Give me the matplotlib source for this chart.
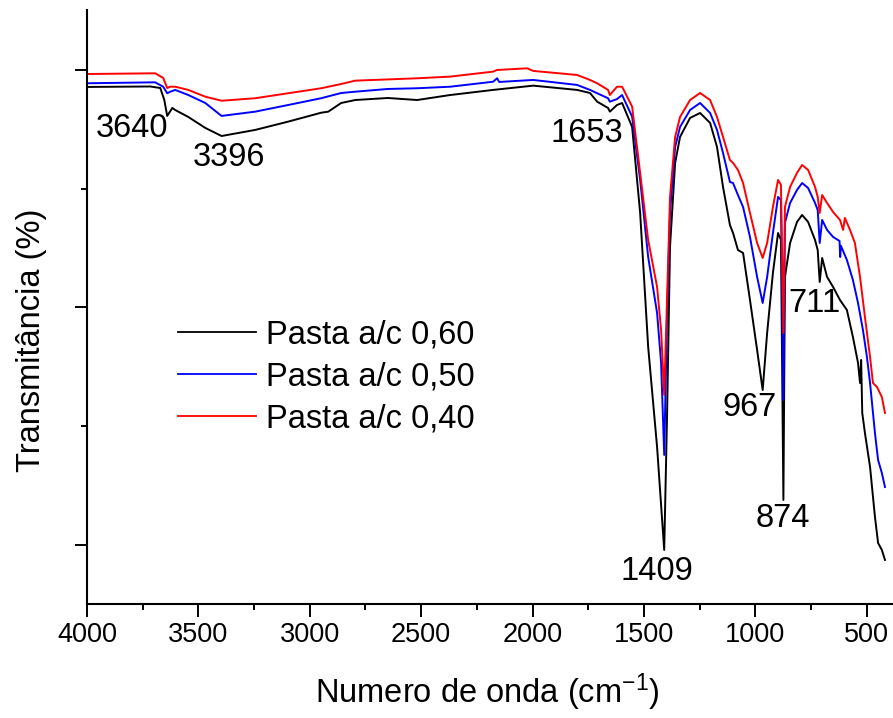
import matplotlib
matplotlib.use("Agg")
import matplotlib.pyplot as plt
from matplotlib.ticker import MultipleLocator

plt.rcParams['font.family'] = ['Liberation Sans', 'DejaVu Sans']
plt.rcParams['mathtext.fontset'] = 'custom'
plt.rcParams['mathtext.rm'] = 'Liberation Sans'
plt.rcParams['mathtext.it'] = 'Liberation Sans'

# ---- data (wavenumber cm-1, transmittance, arbitrary %) ----
wn_060 = [4000, 3716, 3671, 3653, 3640, 3617, 3604, 3545, 3469, 3396, 3245, 3097, 2949, 2917,
          2859, 2796, 2650, 2518, 2370, 2177, 1997, 1800, 1742, 1710, 1661, 1653, 1621, 1598,
          1553, 1517, 1481, 1441, 1409, 1396, 1383, 1360, 1338, 1293, 1248, 1203, 1172, 1145,
          1114, 1100, 1078, 1055, 1024, 992, 967, 947, 921, 898, 885, 874, 867, 844, 813, 790,
          763, 732, 720, 711, 700, 678, 651, 620, 589, 562, 539, 530, 525, 520, 508, 485, 463,
          449, 432, 418]
t_060 = [58.57, 58.61, 58.48, 57.47, 56.13, 56.80, 56.63, 56.04, 55.12, 54.44, 54.95, 55.65,
         56.40, 56.49, 57.22, 57.47, 57.64, 57.47, 57.89, 58.32, 58.68, 58.32, 58.06, 57.33,
         56.80, 56.49, 57.05, 57.22, 55.20, 47.96, 36.67, 28.25, 19.58, 31.12, 45.10, 52.17,
         54.36, 55.96, 56.38, 55.54, 53.52, 50.15, 46.95, 46.27, 44.84, 44.59, 40.63, 36.42,
         33.05, 37.85, 42.91, 46.27, 45.70, 23.79, 42.57, 45.43, 47.20, 47.79, 47.20, 45.68,
         44.84, 42.15, 44.17, 42.57, 41.73, 40.63, 39.79, 37.52, 35.33, 33.64, 35.58, 31.12,
         29.43, 26.57, 22.36, 20.17, 19.58, 18.74]

wn_050 = [4000, 3694, 3658, 3640, 3626, 3604, 3545, 3469, 3396, 3245, 3097, 2949, 2859, 2796,
          2650, 2518, 2370, 2177, 2159, 2150, 1997, 1800, 1742, 1710, 1661, 1653, 1621, 1598,
          1553, 1517, 1481, 1441, 1423, 1409, 1396, 1383, 1360, 1338, 1293, 1248, 1203, 1172,
          1145, 1114, 1100, 1078, 1055, 1024, 992, 967, 947, 921, 898, 885, 874, 867, 844, 813,
          790, 763, 732, 720, 711, 700, 678, 651, 622, 619, 616, 589, 562, 539, 517, 499, 485,
          463, 449, 432, 418]
t_050 = [58.88, 58.96, 58.59, 58.04, 58.17, 58.32, 57.89, 57.22, 56.13, 56.49, 57.05, 57.62,
         58.06, 58.17, 58.40, 58.46, 58.59, 59.01, 59.30, 58.99, 59.16, 58.74, 58.32, 58.04,
         57.62, 57.33, 57.55, 57.89, 56.07, 50.74, 44.25, 39.54, 35.33, 27.58, 39.54, 47.96,
         53.52, 55.20, 56.63, 57.22, 56.38, 54.95, 53.01, 50.57, 50.48, 49.47, 48.46, 45.94,
         42.57, 40.38, 42.57, 46.27, 49.31, 49.05, 32.21, 47.12, 48.80, 49.89, 50.48, 50.06,
         48.80, 48.21, 45.43, 47.37, 46.53, 45.94, 45.60, 44.25, 45.20, 44.00, 42.32, 40.38,
         38.11, 35.83, 33.64, 29.43, 27.16, 26.06, 24.88]

wn_040 = [4000, 3694, 3658, 3640, 3626, 3604, 3545, 3469, 3396, 3245, 3097, 2949, 2859, 2796,
          2518, 2370, 2177, 2159, 2024, 1997, 1800, 1742, 1710, 1661, 1653, 1621, 1598, 1553,
          1517, 1481, 1441, 1423, 1409, 1396, 1383, 1360, 1338, 1293, 1248, 1203, 1172, 1145,
          1114, 1100, 1078, 1055, 1024, 992, 967, 947, 921, 898, 885, 874, 867, 844, 813, 790,
          763, 732, 720, 711, 700, 678, 651, 620, 606, 598, 575, 553, 530, 508, 485, 472, 454,
          432, 418]
t_040 = [59.66, 59.72, 59.33, 58.48, 58.59, 58.59, 58.32, 57.75, 57.41, 57.62, 58.04, 58.46,
         58.82, 59.10, 59.30, 59.44, 59.86, 60.00, 60.14, 59.92, 59.58, 59.16, 58.88, 58.32,
         57.89, 58.59, 58.59, 56.91, 51.33, 45.68, 41.73, 38.11, 32.63, 40.88, 49.31, 54.36,
         56.04, 57.47, 58.06, 57.47, 56.04, 54.36, 52.42, 52.17, 51.58, 50.48, 47.96, 45.43,
         44.17, 45.43, 48.46, 50.74, 50.32, 37.85, 48.46, 50.15, 51.33, 52.00, 51.58, 50.15,
         49.31, 47.96, 49.47, 48.80, 48.04, 47.37, 46.53, 47.54, 46.53, 45.43, 42.57, 39.20,
         35.83, 33.64, 33.31, 32.46, 31.12]

series_labels = ["Pasta a/c 0,60", "Pasta a/c 0,50", "Pasta a/c 0,40"]
series_colors = ["black", "blue", "red"]

peak_labels = ["3640", "3396", "1653", "1409", "967", "874", "711"]
peak_label_pos = [(3797, 55.03), (3361, 52.59), (1755, 54.69), (1441, 17.73),
                  (1024, 31.54), (876, 22.19), (736, 40.30)]

# ---- figure ----
W, H = 893, 718
fig = plt.figure(figsize=(W / 100, H / 100), dpi=100)
ax = fig.add_axes([87 / W, (H - 604) / H, (W - 87) / W, 594 / H])

for wn, t, lab, col in zip([wn_060, wn_050, wn_040], [t_060, t_050, t_040],
                           series_labels, series_colors):
    ax.plot(wn, t, color=col, lw=1.4, label=lab)

ax.set_xlim(4000, 382)
ax.set_ylim(15.03, 65.05)
ax.xaxis.set_major_locator(MultipleLocator(500))
ax.xaxis.set_minor_locator(MultipleLocator(250))
ax.yaxis.set_major_locator(MultipleLocator(20))
ax.yaxis.set_minor_locator(MultipleLocator(10))
ax.tick_params(axis='both', which='major', direction='out', length=9, width=1.4,
               labelsize=19.5, pad=4)
ax.tick_params(axis='both', which='minor', direction='out', length=4.5, width=1.4)
ax.tick_params(axis='y', which='both', labelleft=False)
for s in ['top', 'right']:
    ax.spines[s].set_visible(False)
for s in ['left', 'bottom']:
    ax.spines[s].set_linewidth(1.5)

for lab, (x, y) in zip(peak_labels, peak_label_pos):
    ax.text(x, y, lab, fontsize=23.5, ha='center', va='center')

ax.set_xlabel("Numero de onda (cm$^{-1}$)", fontsize=23.5)
ax.set_ylabel("Transmitância (%)", fontsize=23.5)
ax.xaxis.set_label_coords(0.497, -0.113)
ax.yaxis.set_label_coords(-0.05, 0.444)

leg = ax.legend(loc='upper left', bbox_to_anchor=((178 - 87) / 805, 1 - (319 - 10) / 594),
                bbox_transform=ax.transAxes, frameon=False, fontsize=23.5,
                handlelength=2.4, handletextpad=0.3, labelspacing=0.34, borderpad=0,
                borderaxespad=0)
for l in leg.get_lines():
    l.set_linewidth(1.3)

fig.savefig("out.png", dpi=100)
